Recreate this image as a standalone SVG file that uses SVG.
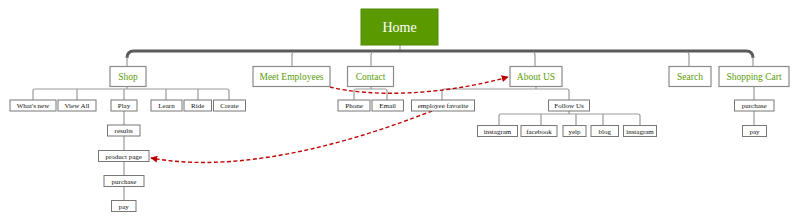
<svg xmlns="http://www.w3.org/2000/svg" width="800" height="222" viewBox="0 0 800 222">
<defs>
<style>
.b1{fill:#fff;stroke:#8a8a8a;stroke-width:1.2}
.b2{fill:#fff;stroke:#777;stroke-width:1}
.t1{font-family:"Liberation Serif",serif;font-size:9.5px;fill:#5b9c0a;text-anchor:middle}
.t2{font-family:"Liberation Serif",serif;font-size:7px;fill:#111;text-anchor:middle}
.c{fill:none;stroke:#9a9a9a;stroke-width:1.2}
.bus{fill:none;stroke:#5a5a5a;stroke-width:3}
.d{fill:none;stroke:#c00000;stroke-width:1.4;stroke-dasharray:4,2.5}
</style>
<marker id="ah" viewBox="0 0 10 10" refX="9" refY="5" markerWidth="5" markerHeight="5" orient="auto">
<path d="M0,0 L10,5 L0,10 z" fill="#c00000"/>
</marker>
</defs>
<rect width="800" height="222" fill="#fff"/>
<g id="connectors">
<path class="c" d="M400 45 V51"/>
<path class="bus" d="M127 58 Q127 51 134 51 H746 Q753 51 753 58"/>
<path class="c" d="M127 57 V66 M753 57 V66"/>
<path class="c" d="M292 66 V55 Q292 52 295 52 M371 66 V55 Q371 52 374 52 M535 66 V55 Q535 52 532 52 M689 66 V55 Q689 52 686 52"/>
<path class="c" d="M127 86 V89 M33 100 V91 Q33 89 35 89 H227 Q229 89 229 91 V100 M77 89 V100 M124 89 V100 M166 89 V100 M198 89 V100"/>
<path class="c" d="M124 111 V125 M124 136 V150 M124 162 V175 M124 187 V200"/>
<path class="c" d="M371 86 V89 M354 100 V91 Q354 89 356 89 H385 Q387 89 387 91 V100"/>
<path class="c" d="M536 86 V89 M442 100 V91 Q442 89 444 89 H567 Q569 89 569 91 V100"/>
<path class="c" d="M569 111 V114 M499 125 V116 Q499 114 501 114 H638 Q640 114 640 116 V125 M541 114 V125 M576 114 V125 M603 114 V125"/>
<path class="c" d="M754 86 V100 M754 111 V125"/>
<path class="d" d="M330 87 C370 97 440 96 508 77" marker-end="url(#ah)"/>
<path class="d" d="M432 111 C395 125 260 178 151 158" marker-end="url(#ah)"/>
</g>
<g id="home"><rect x="361" y="9" width="77" height="36" fill="#5a9a00" stroke="#4f8a00"/><text x="399.5" y="32" font-family="Liberation Serif,serif" font-size="14" fill="#fff" text-anchor="middle">Home</text></g>
<g id="shop"><rect class="b1" x="110" y="66.5" width="36" height="20"/><text class="t1" x="128" y="79.5">Shop</text></g>
<g id="meet"><rect class="b1" x="253" y="66.5" width="77" height="20"/><text class="t1" x="291.5" y="79.5">Meet Employees</text></g>
<g id="contact"><rect class="b1" x="347.5" y="66.5" width="46" height="20"/><text class="t1" x="370.5" y="79.5">Contact</text></g>
<g id="about"><rect class="b1" x="510" y="66.5" width="52" height="20"/><text class="t1" x="536" y="79.5">About US</text></g>
<g id="search"><rect class="b1" x="669" y="66.5" width="42" height="20"/><text class="t1" x="690" y="79.5">Search</text></g>
<g id="cart"><rect class="b1" x="719" y="66.5" width="70" height="20"/><text class="t1" x="754" y="79.5">Shopping Cart</text></g>
<g id="whatsnew"><rect class="b2" x="10" y="100" width="46" height="11"/><text class="t2" x="33" y="108">What's new</text></g>
<g id="viewall"><rect class="b2" x="58" y="100" width="38" height="11"/><text class="t2" x="77" y="108">View All</text></g>
<g id="play"><rect class="b2" x="111" y="100" width="26" height="11"/><text class="t2" x="124" y="108">Play</text></g>
<g id="learn"><rect class="b2" x="151" y="100" width="31" height="11"/><text class="t2" x="166.5" y="108">Learn</text></g>
<g id="ride"><rect class="b2" x="184" y="100" width="27.5" height="11"/><text class="t2" x="197.7" y="108">Ride</text></g>
<g id="create"><rect class="b2" x="213.5" y="100" width="32" height="11"/><text class="t2" x="229.5" y="108">Create</text></g>
<g id="results"><rect class="b2" x="107.5" y="125" width="32.5" height="11"/><text class="t2" x="123.7" y="133">results</text></g>
<g id="productpage"><rect class="b2" x="98.5" y="150.5" width="50.5" height="11"/><text class="t2" x="123.7" y="158.5">product page</text></g>
<g id="purchase1"><rect class="b2" x="104" y="175.5" width="40" height="11"/><text class="t2" x="124" y="183.5">purchase</text></g>
<g id="pay1"><rect class="b2" x="111.5" y="200.5" width="24.5" height="11"/><text class="t2" x="123.7" y="208.5">pay</text></g>
<g id="phone"><rect class="b2" x="338" y="100" width="32" height="11"/><text class="t2" x="354" y="108">Phone</text></g>
<g id="email"><rect class="b2" x="372" y="100" width="31.5" height="11"/><text class="t2" x="387.7" y="108">Email</text></g>
<g id="empfav"><rect class="b2" x="411.5" y="100" width="63" height="11"/><text class="t2" x="443" y="108">employee favorite</text></g>
<g id="followus"><rect class="b2" x="548.5" y="100" width="41" height="11"/><text class="t2" x="569" y="108">Follow Us</text></g>
<g id="instagram1"><rect class="b2" x="477.5" y="125.5" width="40" height="11"/><text class="t2" x="497.5" y="133.5">instagram</text></g>
<g id="facebook"><rect class="b2" x="521" y="125.5" width="36" height="11"/><text class="t2" x="539" y="133.5">facebook</text></g>
<g id="yelp"><rect class="b2" x="563" y="125.5" width="23" height="11"/><text class="t2" x="574.5" y="133.5">yelp</text></g>
<g id="blog"><rect class="b2" x="591" y="125.5" width="27.5" height="11"/><text class="t2" x="604.7" y="133.5">blog</text></g>
<g id="instagram2"><rect class="b2" x="623.5" y="125.5" width="33" height="11"/><text class="t2" x="640" y="133.5">instagram</text></g>
<g id="purchase2"><rect class="b2" x="734.5" y="100" width="39.5" height="11"/><text class="t2" x="754.2" y="108">purchase</text></g>
<g id="pay2"><rect class="b2" x="742.5" y="125.5" width="24" height="11"/><text class="t2" x="754.5" y="133.5">pay</text></g>
</svg>
